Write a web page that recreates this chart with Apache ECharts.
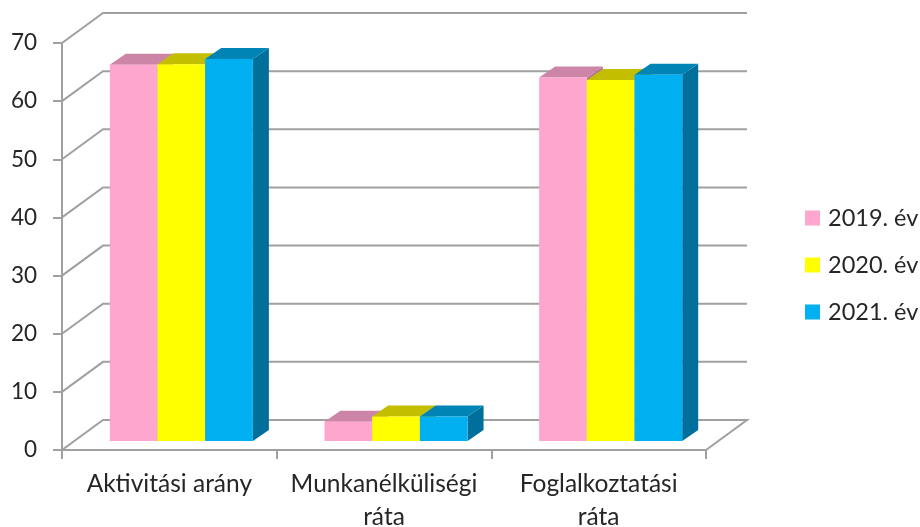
<!DOCTYPE html>
<html>
<head>
<meta charset="utf-8">
<style>html,body{margin:0;padding:0;background:#fff}#c{width:920px;height:527px;filter:blur(0.5px)}</style>
<script src="https://cdn.jsdelivr.net/npm/echarts@6/dist/echarts.min.js"></script>
</head>
<body>
<div id="c"></div>
<script>
const categories = ['Aktivitási arány', 'Munkanélküliségi\nráta', 'Foglalkoztatási\nráta'];
const yTicks = [0, 10, 20, 30, 40, 50, 60, 70];
const seriesNames = ['2019. év', '2020. év', '2021. év'];
const values2019 = [64.7, 3.3, 62.5];
const values2020 = [64.8, 4.2, 62.1];
const values2021 = [65.7, 4.2, 63.0];
const seriesValues = [values2019, values2020, values2021];

const frontColors = ['#FFA6CF', '#FFFF00', '#00B0F0'];
const topColors = ['#CC85A6', '#C4BE00', '#0084B6'];
const sideColors = ['#B3749A', '#A8A300', '#006F9C'];
const GREY = '#A0A0A0', TEXT = '#262626', FONT = 'Lato, "Open Sans", sans-serif';

const WALL_DX = 41, WALL_DY = -30;   // back wall offset
const BAR_DX = 12, BAR_DY = -9;      // bar front plane offset
const DEPTH_DX = 16, DEPTH_DY = -11; // bar depth
const BAR_W = 47.7;

function wallItem(params, api) {
  const cs = params.coordSys;
  const y = api.coord([0, api.value(1)])[1];
  const x0 = cs.x, x1 = cs.x + cs.width;
  const pts = [[x0, y], [x0 + WALL_DX, y + WALL_DY], [x1 + WALL_DX, y + WALL_DY]];
  if (api.value(1) === 0) pts.push([x1, y]);
  return { type: 'polyline', shape: { points: pts }, style: { fill: null, stroke: GREY, lineWidth: 2 } };
}

function barItem(s) {
  return function (params, api) {
    const c = api.coord([api.value(0), api.value(1)]);
    const b = api.coord([api.value(0), 0]);
    const l = c[0] + BAR_DX + (s - 1.5) * BAR_W, r = l + BAR_W;
    const t = c[1] + BAR_DY, bt = b[1] + BAR_DY;
    return {
      type: 'group',
      children: [
        { type: 'polygon', shape: { points: [[r, t], [r + DEPTH_DX, t + DEPTH_DY], [r + DEPTH_DX, bt + DEPTH_DY], [r, bt]] }, style: { fill: sideColors[s] } },
        { type: 'polygon', shape: { points: [[l, t], [l + DEPTH_DX, t + DEPTH_DY], [r + DEPTH_DX, t + DEPTH_DY], [r, t]] }, style: { fill: topColors[s] } },
        { type: 'rect', shape: { x: l, y: t, width: BAR_W, height: bt - t }, style: { fill: frontColors[s] } }
      ]
    };
  };
}

const chart = echarts.init(document.getElementById('c'), null, { renderer: 'canvas' });
chart.setOption({
  animation: false,
  backgroundColor: '#fff',
  grid: { left: 62, top: 43, width: 644, height: 407, containLabel: false, outerBoundsMode: 'none' },
  legend: {
    orient: 'vertical', left: 805, top: 206, icon: 'rect',
    itemWidth: 15, itemHeight: 15, itemGap: 23, padding: 0, selectedMode: false,
    data: seriesNames,
    textStyle: { fontFamily: FONT, fontSize: 23.5, color: TEXT, lineHeight: 19, padding: [0, 0, 0, 3] }
  },
  xAxis: {
    type: 'category', data: categories,
    axisLine: { lineStyle: { color: GREY, width: 2 } },
    axisTick: { show: true, length: 9, alignWithLabel: false, lineStyle: { color: GREY, width: 2 } },
    axisLabel: { fontFamily: FONT, fontSize: 24.5, color: TEXT, lineHeight: 33, margin: 18, interval: 0 }
  },
  yAxis: {
    type: 'value', min: 0, max: 70, interval: 10,
    axisLine: { show: true, lineStyle: { color: GREY, width: 2 } },
    axisTick: { show: true, length: 9, lineStyle: { color: GREY, width: 2 } },
    axisLabel: { fontFamily: FONT, fontSize: 22.5, color: TEXT, margin: 25, padding: [2, 0, 0, 0] },
    splitLine: { show: false }
  },
  series: [
    { type: 'custom', name: 'walls', silent: true, z: 1, renderItem: wallItem,
      encode: { x: 0, y: 1 }, data: yTicks.map(v => [0, v]) }
  ].concat(seriesNames.map((n, s) => ({
    type: 'custom', name: n, z: 2 + s, renderItem: barItem(s),
    itemStyle: { color: frontColors[s] },
    encode: { x: 0, y: 1 },
    data: seriesValues[s].map((v, i) => [i, v])
  })))
});
</script>
</body>
</html>
